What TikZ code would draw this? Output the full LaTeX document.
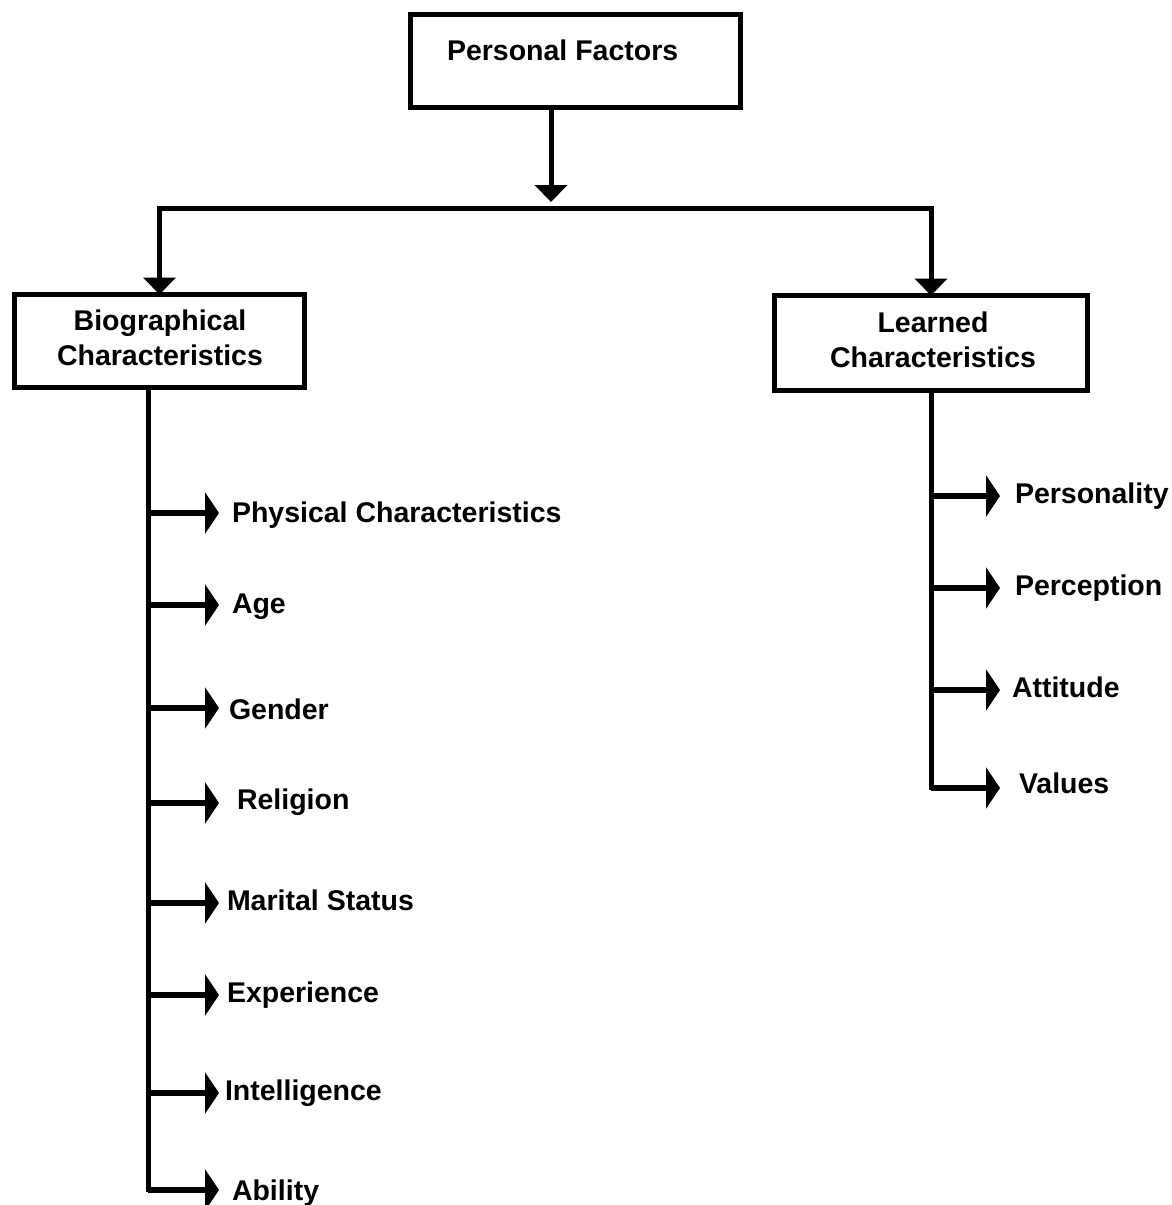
\documentclass[tikz,border=0pt]{standalone}
\usepackage{fontspec}
\setmainfont{Liberation Sans}
\usetikzlibrary{arrows.meta}

\begin{document}
\begin{tikzpicture}[x=1pt,y=-1pt,
  every node/.style={font=\fontsize{28.5}{35}\selectfont\bfseries, inner sep=0pt, outer sep=0pt},
  boxnode/.style={draw, line width=5pt, minimum width=#1, rectangle},
  caption/.style={anchor=base, align=center},
  itemtext/.style={anchor=base west},
  mainarrow/.style={line width=5pt, -{Triangle[length=17pt,width=32pt]}},
  subarrow/.style={line width=5.5pt, -{Triangle[length=14pt,width=41pt]}},
  spine/.style={line width=5pt}]

  % page frame
  \useasboundingbox (0,0) rectangle (1172,1205);

  % boxes (multi-line captions are placed by the baseline of their last line)
  \node[boxnode=330pt, minimum height=93pt] (top) at (575.5,61) {};
  \node[caption, anchor=base west] (toptext) at (447,60) {Personal Factors};

  \node[boxnode=290pt, minimum height=93pt] (bio) at (159.5,341) {};
  \node[caption] (biotext) at (160,365) {Biographical\\Characteristics};

  \node[boxnode=313pt, minimum height=95pt] (learn) at (931,343) {};
  \node[caption] (learntext) at (933,367) {Learned\\Characteristics};

  % trunk and branches
  \coordinate (junction) at (551,208);
  \coordinate (stemtop) at (551,110);
  \draw[mainarrow] (stemtop) -- (551,202);
  \draw[mainarrow] (junction) -| (bio.north);
  \draw[mainarrow] (junction) -| (learn.north);

  % spines
  \coordinate (bioend) at (148,1192);
  \coordinate (learnend) at (931,790);
  \draw[spine] (bio.south -| bioend) -- (bioend);
  \draw[spine] (learn.south -| learnend) -- (learnend);

  % biographical items: arrow y / text x / baseline y / label
  \foreach \ay/\tx/\ty/\lbl [count=\i] in {
      513/232/522/Physical Characteristics,
      605/232/613/Age,
      708/229/719/Gender,
      803/237/809/Religion,
      903/227/910/Marital Status,
      995/227/1002/Experience,
      1093/225/1100/Intelligence,
      1190/232/1200/Ability} {
    \coordinate (bs\i) at (148,\ay);
    \coordinate (bt\i) at (219,\ay);
    \node[itemtext] (bi\i) at (\tx,\ty) {\lbl};
    \draw[subarrow] (bs\i) -- (bt\i);
  }

  % learned items
  \foreach \ay/\tx/\ty/\lbl [count=\i] in {
      496/1015/503/Personality,
      588/1015/595/Perception,
      690/1012/697/Attitude,
      788/1019/793/Values} {
    \coordinate (ls\i) at (931,\ay);
    \coordinate (lt\i) at (1000,\ay);
    \node[itemtext] (li\i) at (\tx,\ty) {\lbl};
    \draw[subarrow] (ls\i) -- (lt\i);
  }
\end{tikzpicture}
\end{document}
